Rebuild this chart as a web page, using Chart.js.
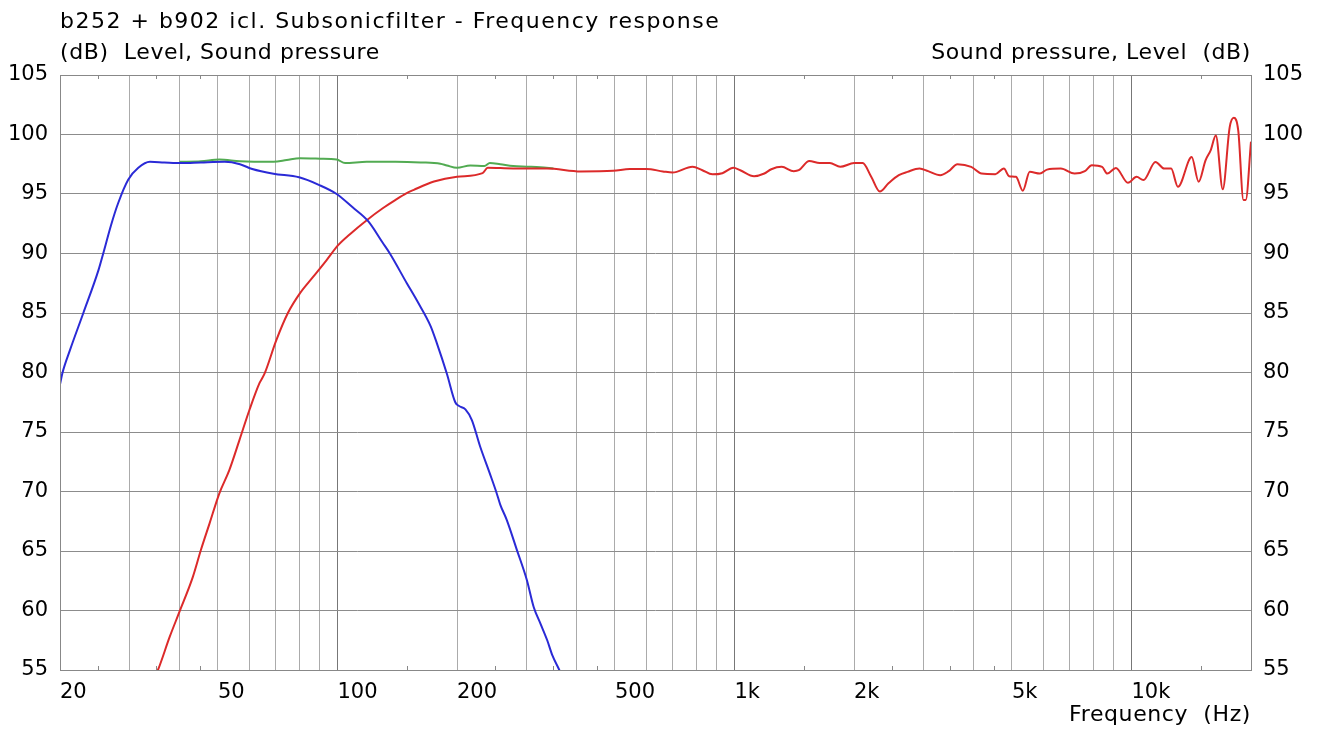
<!DOCTYPE html>
<html>
<head>
<meta charset="utf-8">
<script src="https://cdn.jsdelivr.net/npm/chart.js@4.4.1/dist/chart.umd.min.js"></script>
<style>
  html, body { margin: 0; padding: 0; background: #fff; }
  canvas { display: block; }
</style>
</head>
<body>
<canvas id="fr" width="1319" height="731"></canvas>
<script>
// frequency (Hz) / level (dB)
const wooferFreq = [20, 20.3, 21.2, 22.9, 25, 25.7, 26.9, 28, 29.7, 31.5, 33.7, 36.6, 40.5, 45.3, 52, 56.8, 61, 69, 80, 90, 99.5, 109, 119.6, 130, 135.5, 149.5, 158.8, 171.6, 178, 188.6, 198, 202, 210, 218, 228.6, 242, 251.5, 257, 267, 283, 300, 312, 324.5, 337.5, 348, 362, 372];
const wooferDb = [79, 80, 81.9, 85, 88.6, 90, 92.4, 94.2, 96.2, 97.2, 97.7, 97.65, 97.6, 97.65, 97.7, 97.5, 97.1, 96.7, 96.4, 95.75, 95, 93.9, 92.7, 90.9, 90, 87.5, 86, 83.9, 82.45, 79.9, 77.5, 77.2, 76.9, 76, 73.8, 71.5, 69.9, 68.9, 67.6, 65.1, 62.55, 60.3, 58.9, 57.5, 56.2, 55, 54];

const sumFreq = [40, 45.3, 50.4, 56.8, 69, 74.5, 80.4, 90.5, 99.5, 104.5, 118.5, 140, 162, 181.6, 188.6, 200, 216, 234.5, 242, 257, 277, 300, 324, 350];
const sumDb = [97.7, 97.75, 97.9, 97.75, 97.7, 97.85, 98, 97.97, 97.9, 97.6, 97.7, 97.7, 97.65, 97.55, 97.4, 97.2, 97.4, 97.35, 97.6, 97.5, 97.35, 97.3, 97.25, 97.15];

const tweeterFreq = [34.5, 35.3, 37.8, 40, 43.2, 45.3, 47.6, 50.4, 53.4, 56.6, 60, 63.6, 65.5, 70.1, 75, 80.4, 86.9, 93.9, 100.4, 107.3, 118.5, 130, 140, 149, 155.7, 175, 200, 232, 239, 277, 337, 410, 495, 545, 600, 660, 698, 784, 830, 880, 932, 993, 1034, 1120, 1189, 1238, 1315, 1410, 1452, 1543, 1638, 1739, 1846, 2001, 2103, 2210, 2323, 2443, 2594, 2727, 2924, 3074, 3297, 3466, 3644, 3947, 4191, 4539, 4771, 4917, 5117, 5325, 5542, 5882, 6125, 6636, 7188, 7632, 7943, 8434, 8690, 9135, 9798, 10300, 10715, 11493, 12085, 12582, 13093, 14180, 14758, 15364, 15828, 16310, 16978, 17672, 18100, 18575, 19143, 19400, 20000];
const tweeterDb = [54.3, 55, 57.8, 59.9, 62.8, 65.1, 67.3, 69.85, 71.8, 74.3, 76.85, 79.1, 79.9, 82.7, 85, 86.65, 88.05, 89.45, 90.7, 91.6, 92.8, 93.8, 94.5, 95.05, 95.35, 96.05, 96.45, 96.75, 97.2, 97.15, 97.15, 96.9, 96.95, 97.1, 97.1, 96.9, 96.8, 97.3, 97, 96.65, 96.75, 97.2, 97, 96.5, 96.72, 97.08, 97.28, 96.92, 97, 97.78, 97.6, 97.6, 97.28, 97.6, 97.6, 96.45, 95.2, 95.9, 96.58, 96.86, 97.14, 96.92, 96.58, 96.92, 97.5, 97.28, 96.72, 96.67, 97.14, 96.5, 96.45, 95.28, 96.86, 96.72, 97.05, 97.14, 96.72, 96.92, 97.42, 97.28, 96.72, 97.19, 95.94, 96.44, 96.17, 97.69, 97.14, 97.14, 95.6, 98.1, 96.03, 97.83, 98.67, 99.92, 95.4, 100.6, 101.4, 100.33, 94.5, 94.5, 99.4];

const gridFreqs = [20, 30, 40, 50, 60, 70, 80, 90, 100, 200, 300, 400, 500, 600, 700, 800, 900, 1000, 2000, 3000, 4000, 5000, 6000, 7000, 8000, 9000, 10000, 20000];
const labelledFreqs = { 20: '20', 50: '50', 100: '100', 200: '200', 500: '500', 1000: '1k', 2000: '2k', 5000: '5k', 10000: '10k' };
const decadeFreqs = [100, 1000, 10000];
const minorTicks = [25, 35, 45, 150, 250, 350, 450, 1500, 2500, 3500, 4500, 15000];

const FONT = 'DejaVu Sans, Verdana, sans-serif';

const toPoints = (xs, ys) => xs.map((x, i) => ({ x: x, y: ys[i] }));

// text at a given letter spacing (the original font runs wider than DejaVu)
function spaced(c, text, x, y, gap) {
  c.letterSpacing = gap + 'px';
  c.fillText(text, x, y);
  c.letterSpacing = '0px';
}

const frame = {
  id: 'frame',
  beforeDraw(chart) {
    const c = chart.ctx;
    c.save();
    c.fillStyle = '#fff';
    c.fillRect(0, 0, chart.width, chart.height);
    c.restore();
  },
  afterDraw(chart) {
    const { ctx: c, chartArea: a } = chart;
    const xs = chart.scales.x;
    c.save();
    c.strokeStyle = '#888';
    c.lineWidth = 1;
    c.strokeRect(Math.round(a.left) + 0.5, Math.round(a.top) + 0.5, Math.round(a.right - a.left), Math.round(a.bottom - a.top));
    c.beginPath();
    minorTicks.forEach(f => {
      const px = Math.round(xs.getPixelForValue(f)) + 0.5;
      c.moveTo(px, a.top); c.lineTo(px, a.top + 4);
      c.moveTo(px, a.bottom); c.lineTo(px, a.bottom - 4);
    });
    c.stroke();

    c.fillStyle = '#000';
    c.font = '22px ' + FONT;
    c.textBaseline = 'alphabetic';
    c.textAlign = 'left';
    spaced(c, 'b252 + b902 icl. Subsonicfilter - Frequency response', a.left, 28, 1.5);
    spaced(c, '(dB)  Level, Sound pressure', a.left, 59, 0.6);
    c.textAlign = 'right';
    spaced(c, 'Sound pressure, Level  (dB)', a.right, 59, 0.6);
    spaced(c, 'Frequency  (Hz)', a.right, 721, 0.6);
    c.restore();
  }
};

new Chart(document.getElementById('fr'), {
  type: 'line',
  data: {
    datasets: [
      { label: 'b252', data: toPoints(wooferFreq, wooferDb), borderColor: '#2a2ad6' },
      { label: 'b902', data: toPoints(tweeterFreq, tweeterDb), borderColor: '#dc2a2a' },
      { label: 'sum', data: toPoints(sumFreq, sumDb), borderColor: '#52ab52' }
    ]
  },
  options: {
    responsive: false,
    animation: false,
    parsing: false,
    layout: { padding: { top: 75, left: 0, right: 0, bottom: 0 } },
    elements: {
      point: { radius: 0 },
      line: { borderWidth: 2, cubicInterpolationMode: 'monotone', fill: false }
    },
    plugins: { legend: { display: false }, tooltip: { enabled: false }, title: { display: false } },
    scales: {
      x: {
        type: 'logarithmic',
        min: 20,
        max: 20000,
        afterBuildTicks: s => { s.ticks = gridFreqs.map(v => ({ value: v })); },
        afterFit: s => { s.height = 61; },
        border: { display: false },
        grid: {
          drawTicks: false,
          color: ctx => (ctx.tick && decadeFreqs.includes(ctx.tick.value)) ? '#777' : '#ababab'
        },
        ticks: {
          autoSkip: false,
          maxRotation: 0,
          align: 'start',
          padding: 10,
          color: '#000',
          font: { family: FONT, size: 21 },
          callback: v => labelledFreqs[v] || ''
        }
      },
      y: {
        position: 'left',
        min: 55,
        max: 105,
        afterFit: s => { s.width = 60; },
        border: { display: false },
        grid: { drawTicks: false, color: '#8c8c8c' },
        ticks: { stepSize: 5, padding: 12, color: '#000', font: { family: FONT, size: 21 } }
      },
      y2: {
        position: 'right',
        min: 55,
        max: 105,
        afterFit: s => { s.width = 68; },
        border: { display: false },
        grid: { drawTicks: false, drawOnChartArea: false },
        ticks: { stepSize: 5, padding: 12, color: '#000', font: { family: FONT, size: 21 } }
      }
    }
  },
  plugins: [frame]
});
</script>
</body>
</html>
